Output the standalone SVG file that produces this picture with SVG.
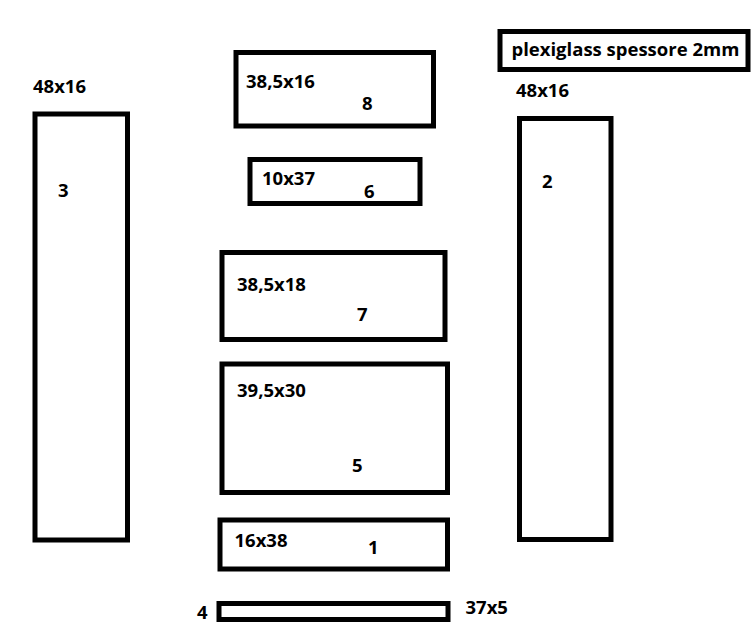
<svg xmlns="http://www.w3.org/2000/svg" width="755" height="630" viewBox="0 0 755 630">
<style>
.b{fill:none;stroke:#000;stroke-width:5}
text{font-family:"Open Sans","Liberation Sans",sans-serif;font-weight:700;font-size:18.5px;fill:#000}
</style>
<rect width="755" height="630" fill="#fff"/>
<g id="title"><rect class="b" x="500" y="31.5" width="248" height="38"/><text x="511.5" y="56">plexiglass spessore 2mm</text></g>
<g id="piece3"><text x="33" y="93">48x16</text><rect class="b" x="35" y="114" width="92.5" height="426"/><text x="58" y="197">3</text></g>
<g id="piece2"><text x="516" y="97">48x16</text><rect class="b" x="519.5" y="118.5" width="91.5" height="421"/><text x="542" y="188">2</text></g>
<g id="piece8"><rect class="b" x="236" y="52.5" width="197.5" height="73.5"/><text x="246" y="88">38,5x16</text><text x="362" y="110">8</text></g>
<g id="piece6"><rect class="b" x="250" y="159.5" width="170" height="44"/><text x="262" y="185">10x37</text><text x="364" y="197.5">6</text></g>
<g id="piece7"><rect class="b" x="222" y="252.5" width="223" height="87"/><text x="237" y="291">38,5x18</text><text x="357" y="321">7</text></g>
<g id="piece5"><rect class="b" x="222" y="364" width="225.5" height="128.5"/><text x="237" y="397">39,5x30</text><text x="352" y="472">5</text></g>
<g id="piece1"><rect class="b" x="220" y="520" width="227.5" height="49"/><text x="234.5" y="546.5">16x38</text><text x="368" y="554">1</text></g>
<g id="piece4"><rect class="b" x="219" y="603.5" width="229" height="16"/><text x="197" y="619">4</text><text x="465.5" y="614">37x5</text></g>
<g id="connectors"></g>
</svg>
